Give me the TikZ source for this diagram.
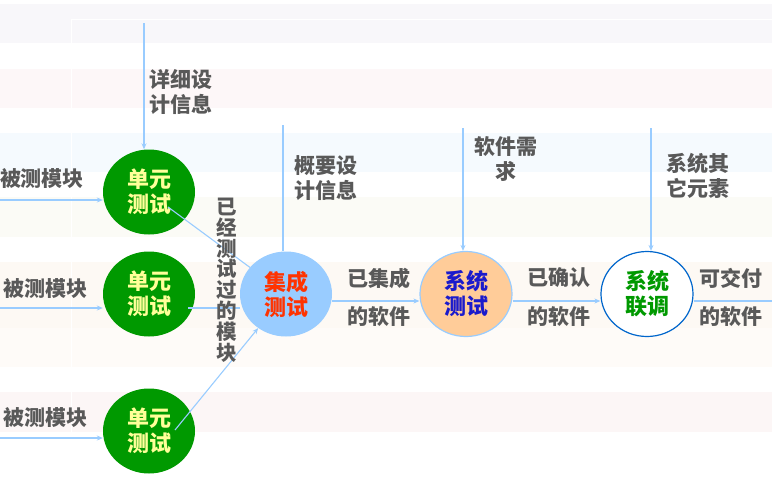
\documentclass[tikz,border=0pt]{standalone}
\usepackage{fontspec}
\newfontfamily\cjk{Noto Sans CJK SC}
\usetikzlibrary{shapes.geometric,arrows.meta,calc}
\definecolor{lbl}{HTML}{595959}
\definecolor{lnk}{HTML}{99CCFF}
\definecolor{ugreen}{HTML}{009900}
\definecolor{uyel}{HTML}{FFFF99}
\definecolor{itred}{HTML}{FF3300}
\definecolor{stblue}{HTML}{1A1ACC}
\definecolor{stfill}{HTML}{FFCC99}
\definecolor{suline}{HTML}{0066CC}
\definecolor{bandA}{HTML}{F8F7FA}
\definecolor{bandB}{HTML}{FDF7F8}
\definecolor{bandC}{HTML}{F5FAFE}
\definecolor{bandD}{HTML}{FBFBF6}
\definecolor{bandE}{HTML}{FDF9F4}
\definecolor{bandF}{HTML}{FEFBF8}
\definecolor{bandG}{HTML}{FCF6F6}
\tikzset{
  proc/.style={ellipse, minimum width=92pt, minimum height=85pt, inner sep=0pt,
    align=center, font=\cjk\bfseries\fontsize{22}{25}\selectfont},
  unitbox/.style={proc, fill=ugreen, text=uyel},
  itbox/.style={proc, fill=lnk, text=itred},
  stbox/.style={proc, fill=stfill, draw=lnk, line width=1.2pt, text=stblue},
  subox/.style={proc, fill=white, draw=suline, line width=1.2pt, text=ugreen},
  lab/.style={text=lbl, align=left, inner sep=0pt, font=\cjk\bfseries\fontsize{21}{25}\selectfont},
  labc/.style={lab, align=center},
  link/.style={draw=lnk, line width=1.1pt},
  arr/.style={link, -{Stealth[length=6pt,width=5pt]}},
}
\begin{document}
\begin{tikzpicture}[x=1pt, y=-1pt]
\useasboundingbox (0,0) rectangle (772,499);
% background bands
\fill[bandA] (0,4) rectangle (772,43);
\fill[bandB] (0,69) rectangle (772,108);
\fill[bandC] (0,133) rectangle (772,172);
\fill[bandD] (0,197) rectangle (772,237);
\fill[bandE] (0,262) rectangle (772,328);
\fill[bandF] (0,328) rectangle (772,367);
\fill[bandG] (0,392) rectangle (772,432);
\draw[white, line width=1pt] (71,19.5) -- (772,19.5);
\draw[white, line width=1pt] (71,19.5) -- (71,499);

% process nodes
\node[unitbox] (u1) at (149,192) {单元\\测试};
\node[unitbox] (u2) at (149,294) {单元\\测试};
\node[unitbox] (u3) at (149,431) {单元\\测试};
\node[itbox] (it) at (286,294) {集成\\测试};
\node[stbox] (st) at (466,294) {系统\\测试};
\node[subox] (su) at (647,294) {系统\\联调};

% free ends
\coordinate (in1) at (0,200);
\coordinate (in2) at (0,308);
\coordinate (in3) at (0,438);
\coordinate (top1) at (144,23);
\coordinate (top2) at (283,125);
\coordinate (top3) at (463,128);
\coordinate (top4) at (651,128);
\coordinate (out) at (772,301);
\coordinate (s1) at (168,207);
\coordinate (s2) at (188,308);
\coordinate (s3) at (175,430);

% connectors
\draw[arr] (in1) -- (in1 -| u1.west);
\draw[arr] (in2) -- (in2 -| u2.west);
\draw[arr] (in3) -- (in3 -| u3.west);
\draw[arr] (top1) -- (top1 |- u1.north);
\draw[link] (s1) -- (it);
\draw[link] (s2) -- (s2 -| it.west);
\draw[arr] (s3) -- (it);
\draw[link] (top2) -- (top2 |- it.north);
\draw[arr] ([yshift=-7pt]it.east) -- ([yshift=-7pt]st.west);
\draw[arr] (top3) -- (top3 |- st.north);
\draw[arr] ([yshift=-7pt]st.east) -- ([yshift=-7pt]su.west);
\draw[arr] (top4) -- (top4 |- su.north);
\draw[link] ([yshift=-7pt]su.east) -- (out);

% labels
\node[lab] (l1) at (42,179) {被测模块};
\node[lab] (l2) at (46,289) {被测模块};
\node[lab] (l3) at (46,418) {被测模块};
\node[lab] (d1) at (181,92) {详细设\\计信息};
\node[lab] (d2) at (326,178) {概要设\\计信息};
\node[labc] (d3) at (506,159) {软件需\\求};
\node[lab] (d4) at (698,176) {系统其\\它元素};
\node[labc, font=\cjk\bfseries\fontsize{20.5}{20.8}\selectfont] (vt) at (227,280)
  {已\\经\\测\\试\\过\\的\\模\\块};
\node[lab] (a1) at (379,278) {已集成};
\node[lab] (a2) at (379,317) {的软件};
\node[lab] (b1) at (559,278) {已确认};
\node[lab] (b2) at (559,317) {的软件};
\node[lab] (c1) at (731,278) {可交付};
\node[lab] (c2) at (731,317) {的软件};
\end{tikzpicture}
\end{document}
